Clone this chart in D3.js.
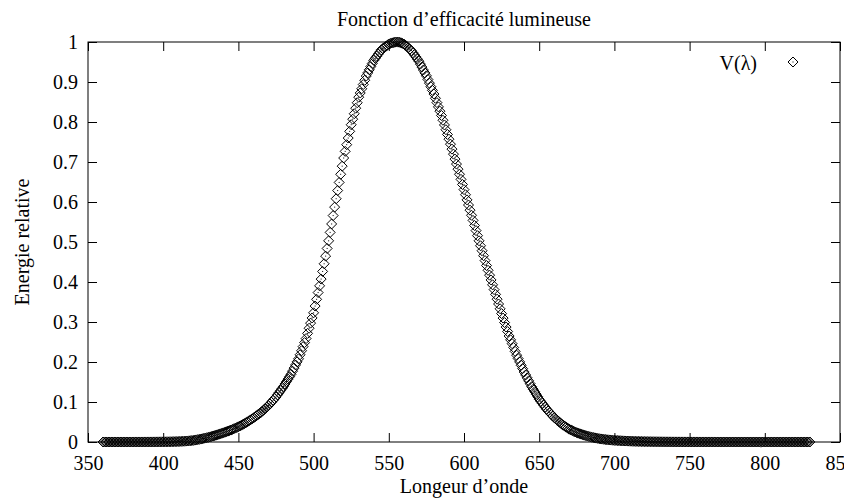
<!DOCTYPE html>
<html>
<head>
<meta charset="utf-8">
<script src="https://cdn.jsdelivr.net/npm/d3@7"></script>
<style>
  html, body { margin: 0; padding: 0; background: #fff; }
  svg { display: block; }
  svg text { font-family: "Liberation Serif", "Times New Roman", Times, "DejaVu Serif", serif; }
</style>
</head>
<body>
<svg id="chart" width="844" height="499"></svg>
<script>
// ---- Data ----
const titleText = "Fonction d\u2019efficacité lumineuse";
const xLabel = "Longeur d\u2019onde";
const yLabel = "Energie relative";
const seriesName = "V(\u03bb)";

const xTicks = [350, 400, 450, 500, 550, 600, 650, 700, 750, 800, 850];
const yTicks = [0, 0.1, 0.2, 0.3, 0.4, 0.5, 0.6, 0.7, 0.8, 0.9, 1];

const startWavelength = 360; // nm, 1 nm step
const efficiency = [
  0.0000039, 0.0000044, 0.0000049, 0.0000055, 0.0000062, // 360
  0.0000070, 0.0000078, 0.0000088, 0.0000098, 0.0000110, // 365
  0.0000124, 0.0000139, 0.0000156, 0.0000175, 0.0000196, // 370
  0.0000220, 0.0000246, 0.0000276, 0.0000309, 0.0000347, // 375
  0.000039, 0.000043, 0.000048, 0.000053, 0.000058,      // 380
  0.000064, 0.000074, 0.000085, 0.000096, 0.000108,      // 385
  0.00012, 0.000136, 0.000155, 0.000175, 0.000195,       // 390
  0.000217, 0.00025, 0.000285, 0.00032, 0.000357,        // 395
  0.000396, 0.000444, 0.000494, 0.000544, 0.000592,      // 400
  0.00064, 0.00075, 0.00086, 0.00097, 0.00109,           // 405
  0.00121, 0.00139, 0.00158, 0.00178, 0.00198,           // 410
  0.00218, 0.00251, 0.00285, 0.00321, 0.00359,           // 415
  0.0040, 0.00462, 0.00529, 0.00597, 0.00664,            // 420
  0.0073, 0.00815, 0.00901, 0.00987, 0.01073,            // 425
  0.0116, 0.01265, 0.0137, 0.01474, 0.01579,             // 430
  0.01684, 0.01807, 0.0193, 0.02054, 0.02177,            // 435
  0.023, 0.02436, 0.02572, 0.02708, 0.02844,             // 440
  0.0298, 0.03144, 0.03308, 0.03472, 0.03636,            // 445
  0.038, 0.040, 0.042, 0.044, 0.046,                     // 450
  0.048, 0.0504, 0.0528, 0.0552, 0.0576,                 // 455
  0.060, 0.0628, 0.0656, 0.0683, 0.0711,                 // 460
  0.0739, 0.0773, 0.0807, 0.0842, 0.0876,                // 465
  0.0910, 0.0953, 0.0996, 0.1040, 0.1083,                // 470
  0.1126, 0.1179, 0.1232, 0.1284, 0.1337,                // 475
  0.1390, 0.1451, 0.1511, 0.1572, 0.1632,                // 480
  0.1693, 0.1771, 0.1848, 0.1926, 0.2003,                // 485
  0.2080, 0.2181, 0.2282, 0.2384, 0.2485,                // 490
  0.2586, 0.2715, 0.2844, 0.2972, 0.3101,                // 495
  0.3230, 0.3399, 0.3567, 0.3736, 0.3904,                // 500
  0.4073, 0.4264, 0.4456, 0.4647, 0.4839,                // 505
  0.5030, 0.5240, 0.5451, 0.5661, 0.5872,                // 510
  0.6082, 0.6286, 0.6489, 0.6693, 0.6896,                // 515
  0.7100, 0.7266, 0.7433, 0.7599, 0.7766,                // 520
  0.7932, 0.8070, 0.8207, 0.8345, 0.8482,                // 525
  0.8620, 0.8726, 0.8831, 0.8937, 0.9043,                // 530
  0.9149, 0.9227, 0.9305, 0.9384, 0.9462,                // 535
  0.9540, 0.9593, 0.9645, 0.9698, 0.9750,                // 540
  0.9803, 0.9835, 0.9864, 0.9892, 0.9917,                // 545
  0.9950, 0.9963, 0.9976, 0.9985, 0.9993,                // 550
  1.0000, 0.9998, 0.9993, 0.9982, 0.9967,                // 555
  0.9950, 0.9920, 0.9888, 0.9854, 0.9820,                // 560
  0.9786, 0.9733, 0.9680, 0.9627, 0.9573,                // 565
  0.9520, 0.9447, 0.9374, 0.9300, 0.9227,                // 570
  0.9154, 0.9063, 0.8972, 0.8882, 0.8791,                // 575
  0.8700, 0.8593, 0.8485, 0.8378, 0.8270,                // 580
  0.8163, 0.8044, 0.7926, 0.7807, 0.7689,                // 585
  0.7570, 0.7446, 0.7322, 0.7197, 0.7073,                // 590
  0.6949, 0.6821, 0.6694, 0.6566, 0.6438,                // 595
  0.6310, 0.6182, 0.6053, 0.5925, 0.5796,                // 600
  0.5668, 0.5540, 0.5413, 0.5285, 0.5158,                // 605
  0.5030, 0.4906, 0.4782, 0.4659, 0.4535,                // 610
  0.4412, 0.4292, 0.4171, 0.4051, 0.3930,                // 615
  0.3810, 0.3690, 0.3570, 0.3450, 0.3330,                // 620
  0.3210, 0.3098, 0.2986, 0.2874, 0.2762,                // 625
  0.2650, 0.2554, 0.2458, 0.2362, 0.2266,                // 630
  0.2170, 0.2086, 0.2002, 0.1918, 0.1834,                // 635
  0.1750, 0.1676, 0.1603, 0.1529, 0.1456,                // 640
  0.1382, 0.1320, 0.1257, 0.1195, 0.1132,                // 645
  0.1070, 0.1019, 0.0968, 0.0918, 0.0867,                // 650
  0.0816, 0.0775, 0.0734, 0.0692, 0.0651,                // 655
  0.0610, 0.0577, 0.0544, 0.0511, 0.0479,                // 660
  0.0446, 0.0421, 0.0396, 0.0371, 0.0345,                // 665
  0.0320, 0.0302, 0.0285, 0.0267, 0.0250,                // 670
  0.0232, 0.0220, 0.0207, 0.0195, 0.0182,                // 675
  0.0170, 0.0160, 0.0150, 0.0139, 0.0129,                // 680
  0.0119, 0.0112, 0.0104, 0.0097, 0.0090,                // 685
  0.0082, 0.0077, 0.0072, 0.0067, 0.0062,                // 690
  0.0057, 0.0054, 0.0051, 0.0047, 0.0044,                // 695
  0.0041, 0.0039, 0.0036, 0.0034, 0.0032,                // 700
  0.0029, 0.0028, 0.0026, 0.0024, 0.0023,                // 705
  0.0021, 0.0020, 0.0018, 0.0017, 0.0016,                // 710
  0.0015, 0.0014, 0.0013, 0.0012, 0.0011,                // 715
  0.00105, 0.00099, 0.00093, 0.00086, 0.0008,            // 720
  0.00074, 0.0007, 0.00066, 0.00061, 0.00057,            // 725
  0.00052, 0.00049, 0.00046, 0.00042, 0.00039,           // 730
  0.00036, 0.00034, 0.00032, 0.00029, 0.00027,           // 735
  0.00025, 0.00023, 0.00022, 0.0002, 0.00019,            // 740
  0.00017, 0.00016, 0.00015, 0.00014, 0.00013,           // 745
  0.00012, 0.000113, 0.000106, 0.000099, 0.000092,       // 750
  0.000085, 0.00008, 0.000075, 0.00007, 0.000065,        // 755
  0.00006, 0.000056, 0.000053, 0.000049, 0.000046,       // 760
  0.000042, 0.00004, 0.000037, 0.000035, 0.000032,       // 765
  0.00003, 0.000028, 0.000026, 0.000025, 0.000023,       // 770
  0.000021, 0.00002, 0.000019, 0.000017, 0.000016,       // 775
  0.000015, 0.000014, 0.000013, 0.000012, 0.000011,      // 780
  0.0000106, 0.0000099, 0.0000093, 0.0000087, 0.0000081, // 785
  0.0000075, 0.0000071, 0.0000067, 0.0000062, 0.0000058, // 790
  0.0000053, 0.000005, 0.0000047, 0.0000043, 0.000004,   // 795
  0.0000037, 0.0000035, 0.0000033, 0.000003, 0.0000028,  // 800
  0.0000026, 0.0000024, 0.0000023, 0.0000021, 0.000002,  // 805
  0.0000018, 0.0000017, 0.0000016, 0.0000015, 0.0000014, // 810
  0.0000013, 0.0000012, 0.0000011, 0.0000011, 0.000001,  // 815
  0.0000009, 0.0000009, 0.0000008, 0.0000007, 0.0000007, // 820
  0.0000006, 0.0000006, 0.0000006, 0.0000005, 0.0000005, // 825
  0.0000005                                              // 830
];

// ---- Layout ----
const plot = { left: 88, right: 840, top: 42, bottom: 442 };
const fontSize = 20;
const fontFamily = '"Liberation Serif", "Times New Roman", Times, "DejaVu Serif", serif';
const tickLen = 9;
const half = 5; // diamond half-diagonal

const svg = d3.select("#chart");

const x = d3.scaleLinear().domain([350, 850]).range([plot.left, plot.right]);
const y = d3.scaleLinear().domain([0, 1]).range([plot.bottom, plot.top]);

const points = efficiency.map((v, i) => ({ w: startWavelength + i, v }));

// frame
svg.append("rect")
  .attr("x", plot.left).attr("y", plot.top)
  .attr("width", plot.right - plot.left).attr("height", plot.bottom - plot.top)
  .attr("fill", "none").attr("stroke", "#000").attr("stroke-width", 1);

// axes (inner ticks on all four sides)
const bottomAxis = d3.axisBottom(x).tickValues(xTicks).tickSize(-tickLen).tickPadding(14).tickFormat(d3.format("d"));
const topAxis = d3.axisTop(x).tickValues(xTicks).tickSize(-tickLen).tickFormat("");
const leftAxis = d3.axisLeft(y).tickValues(yTicks).tickSize(-tickLen).tickPadding(10).tickFormat(d3.format("~g"));
const rightAxis = d3.axisRight(y).tickValues(yTicks).tickSize(-tickLen).tickFormat("");

function styleAxis(g) {
  g.attr("font-family", fontFamily).attr("font-size", fontSize);
  g.select(".domain").remove();
  g.selectAll(".tick line").attr("stroke", "#000");
  g.selectAll(".tick text")
    .attr("fill", "#000")
    .style("font-family", fontFamily)
    .style("font-size", fontSize + "px");
}

svg.append("g").attr("transform", `translate(0,${plot.bottom})`).call(bottomAxis).call(styleAxis);
svg.append("g").attr("transform", `translate(0,${plot.top})`).call(topAxis).call(styleAxis);
svg.append("g").attr("transform", `translate(${plot.left},0)`).call(leftAxis).call(styleAxis);
svg.append("g").attr("transform", `translate(${plot.right},0)`).call(rightAxis).call(styleAxis);

function addText(sel) {
  return sel.append("text")
    .style("font-family", fontFamily)
    .style("font-size", fontSize + "px")
    .attr("fill", "#000");
}

// titles
addText(svg)
  .attr("x", (plot.left + plot.right) / 2).attr("y", 26)
  .attr("text-anchor", "middle")
  .text(titleText);

addText(svg)
  .attr("x", (plot.left + plot.right) / 2).attr("y", 493)
  .attr("text-anchor", "middle")
  .text(xLabel);

addText(svg)
  .attr("transform", `translate(29,${(plot.top + plot.bottom) / 2}) rotate(-90)`)
  .attr("text-anchor", "middle")
  .text(yLabel);

// diamond marker with centre dot
const diamondPath = `M0,${-half}L${half},0L0,${half}L${-half},0Z`;

function drawMarker(g) {
  g.append("path").attr("d", diamondPath)
    .attr("fill", "none").attr("stroke", "#000").attr("stroke-width", 1);
  g.append("rect").attr("x", -0.5).attr("y", -0.5).attr("width", 1).attr("height", 1)
    .attr("fill", "#000");
}

svg.append("g").attr("class", "points")
  .selectAll("g")
  .data(points)
  .join("g")
  .attr("transform", d => `translate(${x(d.w)},${y(d.v)})`)
  .each(function () { drawMarker(d3.select(this)); });

// legend
addText(svg)
  .attr("x", 757).attr("y", 70)
  .attr("text-anchor", "end")
  .text(seriesName);
const lg = svg.append("g").attr("transform", "translate(793,62)");
drawMarker(lg);
</script>
</body>
</html>
